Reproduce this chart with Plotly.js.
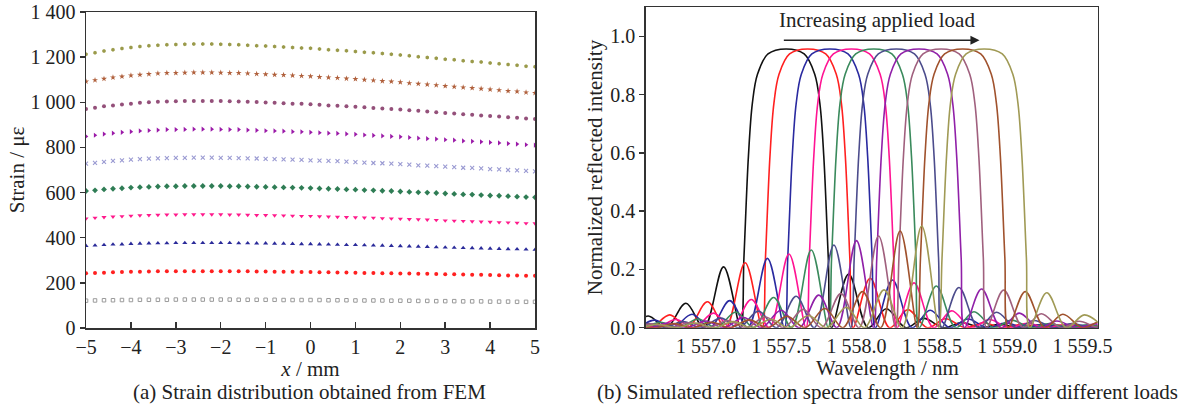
<!DOCTYPE html>
<html>
<head>
<meta charset="utf-8">
<script src="https://cdn.plot.ly/plotly-3.0.1.min.js"></script>
<style>html,body{margin:0;padding:0;background:#fff;}#chart{width:1190px;height:407px;}</style>
</head>
<body>
<div id="chart"></div>
<script>
// ---------- (a) strain distribution ----------
const xPos = [-5,-4.8,-4.6,-4.4,-4.2,-4,-3.8,-3.6,-3.4,-3.2,-3,-2.8,-2.6,-2.4,-2.2,-2,-1.8,-1.6,-1.4,-1.2,-1,-0.8,-0.6,-0.4,-0.2,0,0.2,0.4,0.6,0.8,1,1.2,1.4,1.6,1.8,2,2.2,2.4,2.6,2.8,3,3.2,3.4,3.6,3.8,4,4.2,4.4,4.6,4.8,5];
const strain1 = [121,122,123,123,124,124,125,125,125,125,126,126,126,126,126,126,126,125,125,125,125,125,124,124,124,124,124,123,123,123,122,122,122,122,121,121,121,120,120,119,119,119,118,118,118,117,117,117,116,116,116];
const strain2 = [243,244,245,247,248,249,249,250,251,251,251,251,252,252,252,251,251,251,251,250,250,249,249,249,248,248,247,247,246,246,245,244,244,243,243,242,241,240,240,239,238,238,237,236,236,235,234,233,233,232,231];
const strain3 = [364,366,368,370,371,373,374,375,376,376,377,377,377,377,377,377,377,376,376,375,375,374,374,373,372,372,371,370,369,368,368,367,366,365,364,363,362,361,360,358,357,356,355,354,353,352,351,350,349,348,347];
const strain4 = [485,488,491,493,495,497,499,500,501,502,502,503,503,503,503,503,502,502,501,500,500,499,498,497,496,496,494,493,492,491,490,489,488,486,485,484,482,481,480,478,476,475,474,472,471,470,468,467,466,464,463];
const strain5 = [607,610,614,617,619,622,624,625,627,628,628,629,629,629,629,629,628,628,627,626,625,624,623,622,621,620,618,617,616,614,613,611,610,608,607,605,603,601,600,598,596,594,592,591,589,587,586,584,582,580,579];
const strain6 = [728,732,736,740,743,746,748,750,752,753,754,754,755,755,755,754,754,753,752,751,749,748,747,746,745,743,742,740,739,737,735,733,731,730,728,726,724,721,719,717,715,713,710,709,707,704,703,700,698,696,694];
const strain7 = [849,854,859,863,867,870,873,875,877,879,879,880,881,881,881,880,879,879,877,876,874,873,872,870,869,867,865,863,862,860,858,855,853,851,849,847,844,841,839,837,834,832,829,827,825,822,820,817,815,812,810];
const strain8 = [970,976,982,986,990,994,998,1000,1002,1004,1005,1006,1006,1006,1006,1006,1005,1004,1002,1001,999,998,996,994,993,991,989,986,985,982,980,978,975,973,970,968,965,962,959,956,953,950,947,945,942,939,937,934,931,928,926];
const strain9 = [1092,1098,1104,1110,1114,1119,1122,1125,1128,1130,1130,1131,1132,1132,1132,1131,1130,1130,1128,1126,1124,1122,1121,1119,1117,1115,1112,1110,1108,1105,1103,1100,1097,1094,1092,1089,1085,1082,1079,1076,1072,1069,1066,1063,1060,1057,1054,1050,1048,1044,1041];
const strain10 = [1213,1220,1227,1233,1238,1243,1247,1250,1253,1255,1256,1257,1258,1258,1258,1257,1256,1255,1253,1251,1249,1247,1245,1243,1241,1239,1236,1233,1231,1228,1225,1222,1219,1216,1213,1210,1206,1202,1199,1195,1191,1188,1184,1181,1178,1174,1171,1167,1164,1160,1157];
const strainSeries = [strain1,strain2,strain3,strain4,strain5,strain6,strain7,strain8,strain9,strain10];
const strainTicks = [0,200,400,600,800,1000,1200,1400];
const xTicks = [-5,-4,-3,-2,-1,0,1,2,3,4,5];

// ---------- (b) reflection spectra ----------
const wl0 = [1556.367,1556.487,1556.617,1556.737,1556.867,1556.987,1557.117,1557.230,1557.252,1557.282,1557.308,1557.342,1557.412,1557.532,1557.652,1557.722,1557.756,1557.782,1557.812,1557.834,1557.947,1558.077,1558.197,1558.327,1558.447,1558.577,1558.697,1558.827,1558.947,1559.077,1559.197,1559.327,1559.447,1559.577,1559.697];
const ri0 = [0.022,0,0.040,0,0.084,0,0.209,0,0.24,0.59,0.77,0.87,0.94,0.957,0.94,0.87,0.77,0.59,0.24,0,0.184,0,0.065,0,0.032,0,0.018,0,0.012,0,0.009,0,0.007,0,0.006];
const wl1 = [1556.510,1556.630,1556.760,1556.880,1557.010,1557.130,1557.260,1557.373,1557.395,1557.425,1557.451,1557.485,1557.555,1557.675,1557.795,1557.865,1557.899,1557.925,1557.955,1557.977,1558.090,1558.220,1558.340,1558.470,1558.590,1558.720,1558.840,1558.970,1559.090,1559.220,1559.340,1559.470,1559.590,1559.720];
const ri1 = [0.024,0,0.044,0,0.089,0,0.223,0,0.24,0.59,0.77,0.87,0.94,0.957,0.94,0.87,0.77,0.59,0.24,0,0.170,0,0.062,0,0.031,0,0.017,0,0.011,0,0.009,0,0.007,0];
const wl2 = [1556.408,1556.528,1556.658,1556.778,1556.908,1557.028,1557.158,1557.278,1557.408,1557.521,1557.543,1557.573,1557.599,1557.633,1557.703,1557.823,1557.943,1558.013,1558.047,1558.073,1558.103,1558.125,1558.238,1558.368,1558.488,1558.618,1558.738,1558.868,1558.988,1559.118,1559.238,1559.368,1559.488,1559.618];
const ri2 = [0.016,0,0.026,0,0.046,0,0.093,0,0.238,0,0.24,0.59,0.77,0.87,0.94,0.957,0.94,0.87,0.77,0.59,0.24,0,0.164,0,0.060,0,0.030,0,0.016,0,0.011,0,0.008,0];
const wl3 = [1556.421,1556.551,1556.671,1556.801,1556.921,1557.051,1557.171,1557.301,1557.421,1557.551,1557.664,1557.686,1557.716,1557.742,1557.776,1557.846,1557.966,1558.086,1558.156,1558.190,1558.216,1558.246,1558.268,1558.381,1558.511,1558.631,1558.761,1558.881,1559.011,1559.131,1559.261,1559.381,1559.511,1559.631];
const ri3 = [0,0.018,0,0.028,0,0.050,0,0.097,0,0.253,0,0.24,0.59,0.77,0.87,0.94,0.957,0.94,0.87,0.77,0.59,0.24,0,0.154,0,0.058,0,0.028,0,0.015,0,0.010,0,0.008];
const wl4 = [1556.449,1556.569,1556.699,1556.819,1556.949,1557.069,1557.199,1557.319,1557.449,1557.569,1557.699,1557.812,1557.834,1557.864,1557.890,1557.924,1557.994,1558.114,1558.234,1558.304,1558.338,1558.364,1558.394,1558.416,1558.529,1558.659,1558.779,1558.909,1559.029,1559.159,1559.279,1559.409,1559.529,1559.659];
const ri4 = [0.014,0,0.019,0,0.030,0,0.054,0,0.104,0,0.267,0,0.24,0.59,0.77,0.87,0.94,0.957,0.94,0.87,0.77,0.59,0.24,0,0.143,0,0.055,0,0.026,0,0.014,0,0.010,0];
const wl5 = [1556.469,1556.599,1556.719,1556.849,1556.969,1557.099,1557.219,1557.349,1557.469,1557.599,1557.719,1557.849,1557.962,1557.984,1558.014,1558.040,1558.074,1558.144,1558.264,1558.384,1558.454,1558.488,1558.514,1558.544,1558.566,1558.679,1558.809,1558.929,1559.059,1559.179,1559.309,1559.429,1559.559,1559.679];
const ri5 = [0,0.015,0,0.021,0,0.033,0,0.057,0,0.108,0,0.284,0,0.24,0.59,0.77,0.87,0.94,0.957,0.94,0.87,0.77,0.59,0.24,0,0.138,0,0.053,0,0.025,0,0.014,0,0.009];
const wl6 = [1556.499,1556.619,1556.749,1556.869,1556.999,1557.119,1557.249,1557.369,1557.499,1557.619,1557.749,1557.869,1557.999,1558.112,1558.134,1558.164,1558.190,1558.224,1558.294,1558.414,1558.534,1558.604,1558.638,1558.664,1558.694,1558.716,1558.829,1558.959,1559.079,1559.209,1559.329,1559.459,1559.579,1559.709];
const ri6 = [0.012,0,0.016,0,0.023,0,0.035,0,0.060,0,0.112,0,0.299,0,0.24,0.59,0.77,0.87,0.94,0.957,0.94,0.87,0.77,0.59,0.24,0,0.133,0,0.050,0,0.023,0,0.013,0];
const wl7 = [1556.516,1556.646,1556.766,1556.896,1557.016,1557.146,1557.266,1557.396,1557.516,1557.646,1557.766,1557.896,1558.016,1558.146,1558.259,1558.281,1558.311,1558.337,1558.371,1558.441,1558.561,1558.681,1558.751,1558.785,1558.811,1558.841,1558.863,1558.976,1559.106,1559.226,1559.356,1559.476,1559.606,1559.726];
const ri7 = [0,0.013,0,0.018,0,0.025,0,0.037,0,0.063,0,0.117,0,0.315,0,0.24,0.59,0.77,0.87,0.94,0.957,0.94,0.87,0.77,0.59,0.24,0,0.129,0,0.048,0,0.022,0,0.012];
const wl8 = [1556.539,1556.659,1556.789,1556.909,1557.039,1557.159,1557.289,1557.409,1557.539,1557.659,1557.789,1557.909,1558.039,1558.159,1558.289,1558.402,1558.424,1558.454,1558.480,1558.514,1558.584,1558.704,1558.824,1558.894,1558.928,1558.954,1558.984,1559.006,1559.119,1559.249,1559.369,1559.499,1559.619,1559.749];
const ri8 = [0.011,0,0.014,0,0.019,0,0.027,0,0.039,0,0.066,0,0.124,0,0.332,0,0.24,0.59,0.77,0.87,0.94,0.957,0.94,0.87,0.77,0.59,0.24,0,0.124,0,0.046,0,0.021,0];
const wl9 = [1556.432,1556.552,1556.682,1556.802,1556.932,1557.052,1557.182,1557.302,1557.432,1557.552,1557.682,1557.802,1557.932,1558.052,1558.182,1558.302,1558.432,1558.545,1558.567,1558.597,1558.623,1558.657,1558.727,1558.847,1558.967,1559.037,1559.071,1559.097,1559.127,1559.149,1559.262,1559.392,1559.512,1559.642];
const ri9 = [0.010,0,0.012,0,0.016,0,0.021,0,0.029,0,0.042,0,0.070,0,0.130,0,0.349,0,0.24,0.59,0.77,0.87,0.94,0.957,0.94,0.87,0.77,0.59,0.24,0,0.120,0,0.044,0];
const spectraWl = [wl0,wl1,wl2,wl3,wl4,wl5,wl6,wl7,wl8,wl9];
const spectraI = [ri0,ri1,ri2,ri3,ri4,ri5,ri6,ri7,ri8,ri9];
const wlTicks = [1557.0,1557.5,1558.0,1558.5,1559.0,1559.5];
const intTicks = [0,0.2,0.4,0.6,0.8,1.0];

// ---------- styles ----------
const FONT = 'Liberation Serif, Times New Roman, serif';
const markerStyles = [
  {symbol:'square-open', color:'#9a9a9a', size:3.5, line:{width:1,color:'#9a9a9a'}},
  {symbol:'circle', color:'#ff2020', size:4},
  {symbol:'triangle-up', color:'#2b2b9a', size:4.5},
  {symbol:'triangle-down', color:'#ff1a8c', size:4.5},
  {symbol:'diamond', color:'#2f7d55', size:4.5},
  {symbol:'x-thin', color:'#9a9ad2', size:4, line:{width:1.1,color:'#9a9ad2'}},
  {symbol:'triangle-right', color:'#9b1aa8', size:4.5},
  {symbol:'circle', color:'#94507a', size:4},
  {symbol:'star', color:'#b0603c', size:4.5},
  {symbol:'hexagon', color:'#9a9a4a', size:4}
];
const lineColors = ['#111111','#ff2020','#2a2aa0','#ff1493','#3a8a5c','#4c4c8c','#9020a8','#a0607e','#a0522d','#a09a55'];

const traces = [];
strainSeries.forEach((s,i)=>{
  traces.push({x:xPos, y:s, type:'scatter', mode:'markers', xaxis:'x', yaxis:'y',
    marker:markerStyles[i], showlegend:false, hoverinfo:'skip'});
});
spectraWl.forEach((w,i)=>{
  traces.push({x:w, y:spectraI[i], type:'scatter', mode:'lines', xaxis:'x2', yaxis:'y2',
    line:{color:lineColors[i], width:1.6, shape:'spline', smoothing:1}, showlegend:false, hoverinfo:'skip'});
});

const axisBase = {showgrid:false, zeroline:false, showline:true, mirror:true, linecolor:'#333', linewidth:1.5,
  tickcolor:'#333', tickwidth:1.5, tickfont:{family:FONT, size:20, color:'#222'}};

const layout = {
  width:1190, height:407, margin:{l:0,r:0,t:0,b:0}, paper_bgcolor:'#fff', plot_bgcolor:'#fff',
  separators:'. ', showlegend:false,
  font:{family:FONT, color:'#222'},
  xaxis:Object.assign({}, axisBase, {domain:[0.0723,0.4496], range:[-5,5], tickvals:xTicks, ticks:'inside', ticklen:6,
    title:{text:'<i>x</i> / mm', font:{family:FONT,size:21,color:'#222'}, standoff:4}}),
  yaxis:Object.assign({}, axisBase, {domain:[0.1941,0.9705], range:[0,1400], tickvals:strainTicks, tickformat:',d', ticks:'outside', ticklen:5,
    title:{text:'Strain / με', font:{family:FONT,size:21,color:'#222'}, standoff:0}}),
  xaxis2:Object.assign({}, axisBase, {anchor:'y2', domain:[0.5426,0.9224], range:[1556.6,1559.6], tickvals:wlTicks, tickformat:',.1f', ticks:''}),
  yaxis2:Object.assign({}, axisBase, {anchor:'x2', domain:[0.1948,0.9821], range:[0,1.1], tickvals:intTicks, tickformat:'.1f', ticks:'outside', ticklen:5,
    title:{text:'Normalized reflected intensity', font:{family:FONT,size:21,color:'#222'}, standoff:2}}),
  annotations:[
    {xref:'paper', yref:'paper', x:0.2605, y:0.0369, xanchor:'center', yanchor:'middle', showarrow:false,
     text:'(a) Strain distribution obtained from FEM', font:{family:FONT,size:21,color:'#222'}},
    {xref:'paper', yref:'paper', x:0.7462, y:0.0369, xanchor:'center', yanchor:'middle', showarrow:false,
     text:'(b) Simulated reflection spectra from the sensor under different loads', font:{family:FONT,size:21,color:'#222'}},
    {xref:'paper', yref:'paper', x:0.7462, y:0.0958, xanchor:'center', yanchor:'middle', showarrow:false,
     text:'Wavelength / nm', font:{family:FONT,size:21,color:'#222'}},
    {xref:'x2', yref:'y2', x:1558.133, y:1.056, xanchor:'center', yanchor:'middle', showarrow:false,
     text:'Increasing applied load', font:{family:FONT,size:21,color:'#222'}},
    {xref:'x2', yref:'y2', axref:'x2', ayref:'y2', x:1558.816, y:0.987, ax:1557.507, ay:0.987, text:'',
     showarrow:true, arrowhead:2, arrowsize:1.3, arrowwidth:1.4, arrowcolor:'#222'}
  ]
};

Plotly.newPlot('chart', traces, layout, {staticPlot:true, displayModeBar:false});
</script>
</body>
</html>
